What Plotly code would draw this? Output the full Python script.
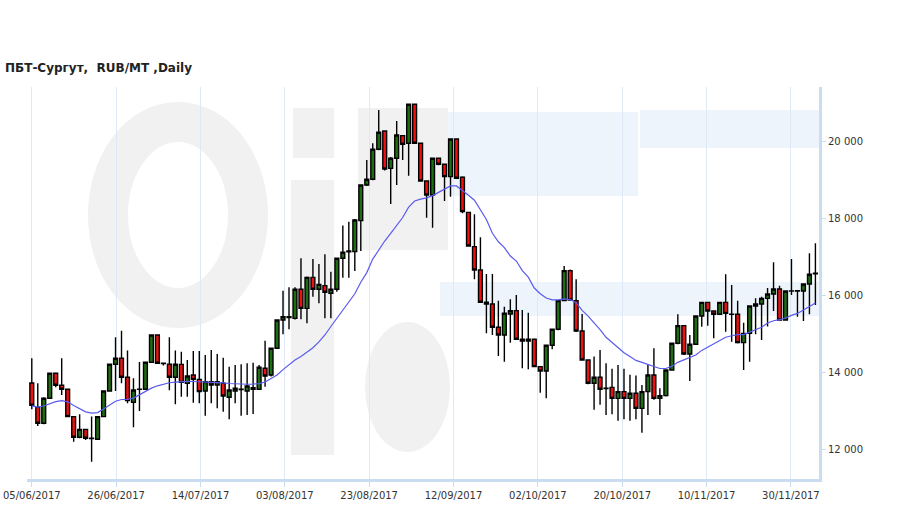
import plotly.graph_objects as go

title_text = "ПБТ-Сургут,  RUB/MT ,Daily"
tick_labels = ["05/06/2017", "26/06/2017", "14/07/2017", "03/08/2017", "23/08/2017",
               "12/09/2017", "02/10/2017", "20/10/2017", "10/11/2017", "30/11/2017"]
label_step = 14.1  # candles between date labels
y_tick_vals = [12000, 14000, 16000, 18000, 20000]
y_tick_text = ["12 000", "14 000", "16 000", "18 000", "20 000"]

opens = [13734, 13102, 12686, 13336, 13985, 13673, 13569, 12860, 12323, 12530,
         12297, 12271, 12860, 13526, 14219, 14374, 13881, 13232, 13569, 13569,
         14271, 14980, 14245, 14219, 13881, 14218, 13724, 13941, 13828, 13526,
         13768, 13682, 13725, 13362, 13526, 13575, 13526, 13613, 13569, 14115,
         13942, 14634, 15369, 15456, 15412, 16166, 15672, 16477, 16166, 16261,
         16062, 16166, 16971, 17140, 17144, 17949, 18876, 19023, 19802, 20278,
         19308, 19568, 20157, 19958, 20971, 19958, 18980, 18616, 19568, 19412,
         19092, 20070, 19075, 18165, 17274, 16668, 15829, 15785, 15180, 14980,
         15526, 15612, 14868, 14824, 14868, 14158, 14045, 14712, 15127, 15872,
         16651, 15872, 15084, 14331, 13725, 13881, 13600, 13620, 13335, 13508,
         13335, 13465, 13075, 13508, 13941, 13335, 13404, 14071, 14764, 15222,
         14487, 14738, 15473, 15828, 15603, 15517, 15828, 15520, 15517, 14781,
         15023, 15733, 15785, 15932, 16045, 16174, 15369, 16120, 16123, 16123,
         16304, 16570]
highs = [14374, 13725, 13360, 14000, 14000, 14374, 13580, 12870, 12920, 12540,
         12860, 12870, 13540, 14230, 14920, 15093, 14574, 13855, 14279, 14280,
         14990, 14990, 14260, 14920, 14574, 14547, 14330, 14564, 14564, 14460,
         14590, 14487, 14391, 14157, 14200, 14218, 14244, 14261, 14200, 14833,
         14640, 15380, 16131, 16217, 16217, 16971, 16500, 16954, 16824, 17074,
         16624, 16990, 17820, 17923, 17990, 18890, 19525, 19958, 20823, 20300,
         19600, 20538, 20170, 20990, 20990, 19970, 19000, 19580, 19590, 19430,
         20090, 20080, 19100, 18180, 18114, 17517, 16564, 16564, 15872, 15716,
         15906, 16019, 15630, 15560, 14880, 14170, 14720, 15140, 15880, 16772,
         16680, 16426, 15526, 14340, 14420, 14591, 14244, 14100, 14200, 14100,
         13950, 13930, 13681, 14201, 14634, 13595, 14090, 14780, 15517, 15240,
         14980, 15490, 15840, 15840, 15620, 15840, 16556, 16278, 15870, 15300,
         15750, 15932, 15975, 16200, 16867, 16260, 16140, 16954, 16140, 16320,
         17101, 17361]
lows = [13050, 12617, 12660, 13320, 13620, 13422, 12850, 12210, 12300, 12250,
        11690, 12260, 12850, 13510, 13526, 13725, 13206, 12582, 13007, 13560,
        14260, 14230, 14190, 13543, 13180, 13378, 13378, 13222, 13205, 12885,
        13205, 13076, 12989, 12790, 13205, 12885, 12902, 12928, 13560, 13638,
        13900, 14620, 15000, 15126, 15380, 15386, 15282, 15975, 15802, 15412,
        15412, 16100, 16469, 16469, 16642, 17162, 18850, 19000, 19780, 19250,
        18380, 18876, 19525, 19118, 19940, 18960, 18027, 17768, 19390, 18460,
        18573, 19030, 18140, 17270, 16426, 15810, 15024, 14980, 14435, 14288,
        14781, 14850, 14115, 14089, 14140, 13483, 13335, 14608, 15100, 15860,
        15870, 15060, 14310, 13700, 13040, 13170, 12902, 12920, 12750, 12790,
        12750, 12790, 12443, 12903, 13300, 12902, 13380, 14050, 14740, 14460,
        13785, 14720, 15196, 15222, 14893, 15500, 15066, 14807, 14760, 14071,
        14287, 15000, 14850, 15200, 15600, 15350, 15350, 16019, 15456, 15344,
        15517, 15760]
closes = [13154, 12686, 13336, 13985, 13673, 13569, 12860, 12323, 12530, 12297,
          12290, 12860, 13526, 14219, 14374, 13881, 13275, 13552, 13575, 14271,
          14980, 14245, 14240, 13881, 14219, 13750, 13915, 13828, 13508, 13768,
          13682, 13768, 13396, 13552, 13595, 13565, 13656, 13569, 14141, 13916,
          14634, 15369, 15456, 15430, 16166, 15672, 16477, 16166, 16295, 16088,
          16166, 16971, 17127, 17160, 17967, 18876, 19023, 19802, 20243, 19291,
          19568, 20174, 19932, 20971, 19958, 18980, 18616, 19568, 19412, 19092,
          20070, 19049, 18183, 17291, 16668, 15829, 15785, 15180, 14980, 15543,
          15612, 14868, 14824, 14868, 14158, 14045, 14712, 15127, 15872, 16651,
          15889, 15084, 14331, 13725, 13881, 13569, 13590, 13335, 13508, 13335,
          13465, 13075, 13508, 13941, 13335, 13404, 14071, 14764, 15222, 14487,
          14738, 15473, 15828, 15603, 15517, 15828, 15542, 15517, 14781, 15023,
          15733, 15785, 15932, 16045, 16174, 15369, 16123, 16123, 16130, 16304,
          16556, 16582]
moving_avg = [13140, 13105, 13135, 13200, 13250, 13275, 13245, 13150, 13060, 12985,
              12950, 12965, 13060, 13160, 13260, 13305, 13310, 13340, 13430, 13520,
              13600, 13660, 13705, 13740, 13758, 13770, 13775, 13772, 13768, 13760,
              13750, 13743, 13735, 13720, 13710, 13700, 13700, 13705, 13715, 13760,
              13850, 13940, 14080, 14210, 14330, 14420, 14530, 14650, 14800, 14980,
              15200, 15420, 15620, 15860, 16050, 16350, 16600, 16950, 17200, 17420,
              17620, 17820, 18030, 18300, 18460, 18510, 18540, 18600, 18690, 18780,
              18850, 18850, 18740, 18610, 18480, 18240, 17980, 17620, 17400, 17250,
              17030, 16900, 16650, 16480, 16200, 16050, 15940, 15890, 15890, 15920,
              15900, 15820, 15620, 15470, 15300, 15120, 14920, 14780, 14660, 14520,
              14420, 14320, 14270, 14210, 14160, 14110, 14110, 14170, 14270, 14330,
              14400, 14460, 14580, 14660, 14750, 14830, 14920, 14960, 14990, 14990,
              15060, 15120, 15180, 15290, 15350, 15380, 15420, 15490, 15540, 15630,
              15730, 15810]

x = list(range(len(closes)))
grid_color = "#dfe9f5"
axis_color = "#c9dcf0"
font_family = "DejaVu Sans, Verdana, sans-serif"

# plot area in page pixels and axis ranges
PL, PR, PT, PB = 27, 819, 87, 479
x_range = [-0.8, 131.6]
y_range = [11240, 21420]


def px(xp):
    return (xp - PL) / (PR - PL)


def py(yp):
    return (PB - yp) / (PB - PT)


def dx(xp):  # page pixel -> x-axis position (for the background logo only)
    return x_range[0] + px(xp) * (x_range[1] - x_range[0])


def dy(yp):
    return y_range[0] + py(yp) * (y_range[1] - y_range[0])


def wm_rect(x0, y0, x1, y1, color):
    return dict(type="rect", xref="x", yref="y", layer="below",
                x0=dx(x0), x1=dx(x1), y0=dy(y1), y1=dy(y0),
                fillcolor=color, line=dict(width=0))


# faint background watermark (logo) drawn as soft shapes below the grid
wm_gray = "#f1f1f1"
wm_blue = "#eef4fb"
shapes = [
    dict(type="circle", xref="x", yref="y", layer="below",
         x0=dx(108), x1=dx(248), y0=dy(308), y1=dy(122),
         line=dict(color=wm_gray, width=40), fillcolor="rgba(0,0,0,0)"),
    wm_rect(291, 180, 334, 455, wm_gray),
    wm_rect(293, 108, 334, 158, wm_gray),
    wm_rect(358, 108, 448, 250, wm_gray),
    dict(type="circle", xref="x", yref="y", layer="below",
         x0=dx(365), x1=dx(450), y0=dy(452), y1=dy(322),
         fillcolor=wm_gray, line=dict(width=0)),
    wm_rect(448, 112, 638, 196, wm_blue),
    wm_rect(640, 110, 819, 148, wm_blue),
    wm_rect(440, 282, 819, 316, wm_blue),
]

fig = go.Figure()
fig.add_trace(go.Candlestick(
    x=x, open=opens, high=highs, low=lows, close=closes,
    increasing=dict(fillcolor="#1f6d12", line=dict(color="#000000", width=1.4)),
    decreasing=dict(fillcolor="#f01010", line=dict(color="#000000", width=1.4)),
    whiskerwidth=0, showlegend=False, hoverinfo="skip"))
fig.add_trace(go.Scatter(
    x=x, y=moving_avg, mode="lines", line=dict(color="#5a5af0", width=1.2),
    showlegend=False, hoverinfo="skip"))

fig.update_layout(
    width=909, height=509,
    margin=dict(l=PL, r=909 - PR, t=PT, b=509 - PB, autoexpand=False),
    paper_bgcolor="white", plot_bgcolor="white",
    boxgap=0.08,
    shapes=shapes,
    annotations=[dict(text="<b>" + title_text + "</b>", xref="paper", yref="paper",
                      x=px(3), y=py(68), xanchor="left", yanchor="middle",
                      showarrow=False,
                      font=dict(family=font_family, size=12, color="#222222"))],
    xaxis=dict(range=x_range, rangeslider=dict(visible=False),
               automargin=False,
               tickmode="array",
               tickvals=[k * label_step for k in range(len(tick_labels))],
               ticktext=tick_labels,
               showgrid=True, gridcolor=grid_color, gridwidth=1,
               showline=True, linecolor=axis_color, linewidth=3,
               ticks="outside", ticklen=5, tickcolor=axis_color,
               tickfont=dict(family=font_family, size=10, color="#333333"),
               zeroline=False, fixedrange=True),
    yaxis=dict(range=y_range, side="right", tickmode="array", automargin=False,
               tickvals=y_tick_vals, ticktext=y_tick_text,
               showgrid=False, showline=True, linecolor=axis_color, linewidth=3,
               ticks="outside", ticklen=4, tickcolor=axis_color,
               tickfont=dict(family=font_family, size=10, color="#333333"),
               zeroline=False, fixedrange=True),
    yaxis2=dict(range=y_range, overlaying="y", side="left", automargin=False,
                tickmode="linear", tick0=13213, dtick=2000,
                showgrid=True, gridcolor=grid_color, gridwidth=1,
                showticklabels=False, ticks="",
                showline=True, linecolor=axis_color, linewidth=1,
                zeroline=False, fixedrange=True),
)
fig.write_html("out.html", config={"displayModeBar": False, "staticPlot": True},
               post_script="document.body.style.margin='0';document.body.style.overflow='hidden';")
